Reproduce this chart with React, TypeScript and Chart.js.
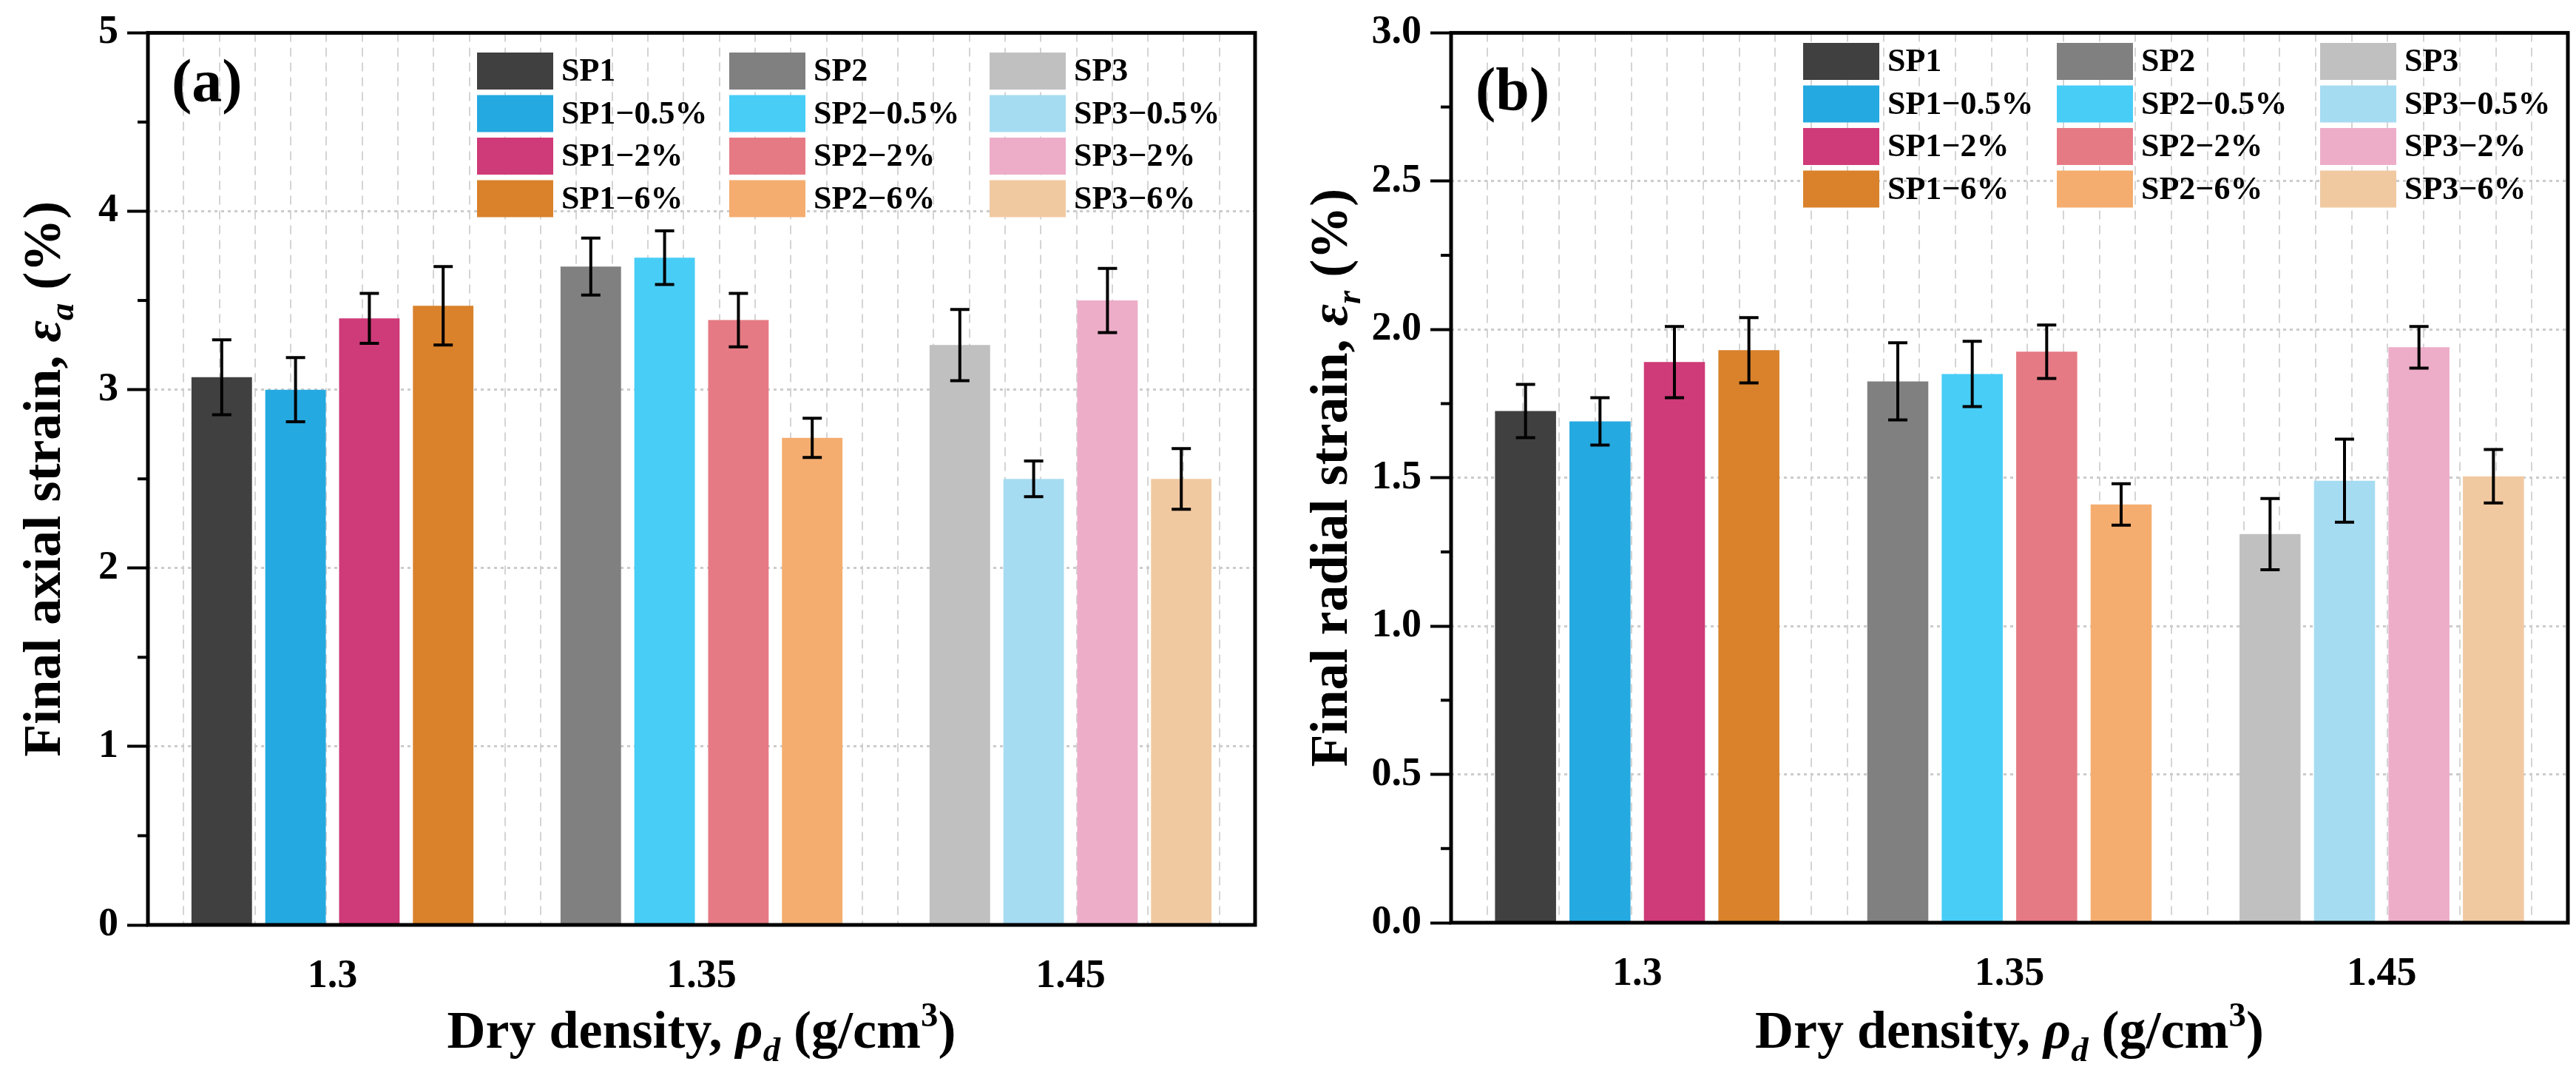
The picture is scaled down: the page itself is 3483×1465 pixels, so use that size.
import React, { useEffect, useRef } from "react";
import { Chart, registerables } from "chart.js";
Chart.register(...registerables);

const categories = ["1.3", "1.35", "1.45"];
const seriesLabels = ["SP1", "SP2", "SP3", "SP1\u22120.5%", "SP2\u22120.5%", "SP3\u22120.5%", "SP1\u22122%", "SP2\u22122%", "SP3\u22122%", "SP1\u22126%", "SP2\u22126%", "SP3\u22126%"];
const seriesColors = ["#404040", "#808080", "#c0c0c0", "#24a9e1", "#48cdf7", "#a6dcf2", "#cf3a78", "#e67a84", "#edadc8", "#d9822b", "#f4ad6f", "#f1c9a1"];
// which category each series belongs to (index into categories)
const seriesGroup = [0, 1, 2, 0, 1, 2, 0, 1, 2, 0, 1, 2];
const axialValues = [3.07, 3.69, 3.25, 3.0, 3.74, 2.5, 3.4, 3.39, 3.5, 3.47, 2.73, 2.5];
const axialErrors = [0.21, 0.16, 0.2, 0.18, 0.15, 0.1, 0.14, 0.15, 0.18, 0.22, 0.11, 0.17];
const radialValues = [1.725, 1.825, 1.31, 1.69, 1.85, 1.49, 1.89, 1.925, 1.94, 1.93, 1.41, 1.505];
const radialErrors = [0.09, 0.13, 0.12, 0.08, 0.11, 0.14, 0.12, 0.09, 0.07, 0.11, 0.07, 0.09];
const axialTicks = { min: 0, max: 5, step: 1, minor: 0.5 };
const radialTicks = { min: 0, max: 3, step: 0.5, minor: 0.25 };

const FONT = "'Liberation Serif', 'Times New Roman', serif";

type Seg = { t: string; italic?: boolean; sub?: boolean; sup?: boolean };

function drawSegs(ctx: CanvasRenderingContext2D, segs: Seg[], size: number, cx: number, cy: number, rot: boolean) {
  const fontOf = (s: Seg) => `${s.italic ? "italic " : ""}bold ${s.sub || s.sup ? size * 0.65 : size}px ${FONT}`;
  let total = 0;
  segs.forEach((s) => { ctx.font = fontOf(s); total += ctx.measureText(s.t).width; });
  ctx.save();
  ctx.translate(cx, cy);
  if (rot) ctx.rotate(-Math.PI / 2);
  ctx.fillStyle = "#000";
  ctx.textBaseline = "alphabetic";
  ctx.textAlign = "left";
  let x = -total / 2;
  segs.forEach((s) => {
    ctx.font = fontOf(s);
    const dy = s.sub ? size * 0.25 : s.sup ? -size * 0.4 : 0;
    ctx.fillText(s.t, x, size * 0.33 + dy);
    x += ctx.measureText(s.t).width;
  });
  ctx.restore();
}

function makeChart(canvas: HTMLCanvasElement, cfg: any) {
  const { values, errors, ticks, letter, yTitle, plotLeft, padRight, padTop, xHeight, legendX, legendY, letterX, letterY } = cfg;
  const datasets = seriesLabels.map((lab, i) => ({
    label: lab,
    data: categories.map((_, c) => (seriesGroup[i] === c ? values[i] : null)),
    backgroundColor: seriesColors[i],
    borderWidth: 0,
    categoryPercentage: 0.8,
    barPercentage: 0.82,
    errs: errors[i],
  }));
  const deco = {
    id: "deco",
    afterDatasetsDraw(chart: any) {
      const ctx = chart.ctx;
      const y = chart.scales.y;
      const a = chart.chartArea;
      // error bars
      ctx.save();
      ctx.strokeStyle = "#000";
      ctx.lineWidth = 4;
      chart.data.datasets.forEach((ds: any, di: number) => {
        const meta = chart.getDatasetMeta(di);
        meta.data.forEach((el: any, j: number) => {
          const v = ds.data[j];
          if (v == null) return;
          const t = y.getPixelForValue(v + ds.errs);
          const b = y.getPixelForValue(v - ds.errs);
          ctx.beginPath();
          ctx.moveTo(el.x, t); ctx.lineTo(el.x, b);
          ctx.moveTo(el.x - 13, t); ctx.lineTo(el.x + 13, t);
          ctx.moveTo(el.x - 13, b); ctx.lineTo(el.x + 13, b);
          ctx.stroke();
        });
      });
      // minor ticks
      ctx.lineWidth = 4;
      for (let v = ticks.min + ticks.minor; v < ticks.max; v += ticks.step) {
        const py = y.getPixelForValue(v);
        ctx.beginPath(); ctx.moveTo(a.left - 14, py); ctx.lineTo(a.left, py); ctx.stroke();
      }
      // frame
      ctx.lineWidth = 5;
      ctx.strokeRect(a.left, a.top, a.right - a.left, a.bottom - a.top);
      ctx.restore();
      // legend
      ctx.save();
      ctx.textBaseline = "middle";
      ctx.font = `bold 44px ${FONT}`;
      chart.data.datasets.forEach((ds: any, i: number) => {
        const col = i % 3, row = Math.floor(i / 3);
        const lx = legendX[col], ly = legendY + row * 57.5;
        ctx.fillStyle = ds.backgroundColor;
        ctx.fillRect(lx, ly, 103, 50);
        ctx.fillStyle = "#000";
        ctx.fillText(ds.label, lx + 114, ly + 27);
      });
      ctx.font = `bold 82px ${FONT}`;
      ctx.fillText(letter, letterX, letterY);
      ctx.restore();
      // axis titles
      drawSegs(ctx, [{ t: "Dry density, " }, { t: "\u03c1", italic: true }, { t: "d", italic: true, sub: true }, { t: " (g/cm" }, { t: "3", sup: true }, { t: ")" }], 72, (a.left + a.right) / 2, 1392, false);
      drawSegs(ctx, yTitle, 72, 57, (a.top + a.bottom) / 2, true);
    },
  };
  return new Chart(canvas, {
    type: "bar",
    data: { labels: categories, datasets },
    plugins: [deco],
    options: {
      animation: false,
      responsive: false,
      skipNull: true,
      layout: { padding: { left: 0, right: padRight, top: padTop, bottom: 0 } },
      plugins: { legend: { display: false }, tooltip: { enabled: false } },
      scales: {
        x: {
          offset: true,
          grid: { display: false },
          border: { display: false },
          ticks: { color: "#000", font: { family: FONT, size: 54, weight: "bold" }, padding: 30 },
          afterFit: (s: any) => { s.height = xHeight; },
        },
        x2: {
          type: "linear",
          position: "bottom",
          min: 0, max: 30,
          ticks: { display: false, stepSize: 1 },
          grid: { color: "#d4d4d4", lineWidth: 2, drawTicks: false },
          border: { display: false, dash: [12, 8] },
          afterFit: (s: any) => { s.height = 0; },
        },
        y: {
          min: ticks.min, max: ticks.max,
          ticks: { stepSize: ticks.step, color: "#000", font: { family: FONT, size: 54, weight: "bold" }, padding: 12, callback: (v: any) => (ticks.step < 1 ? Number(v).toFixed(1) : String(v)) },
          grid: { color: "#cccccc", lineWidth: 3, tickLength: 28, tickColor: "#000", tickWidth: 4, tickBorderDash: [] },
          border: { display: false, dash: [4, 5] },
          afterFit: (s: any) => { s.width = plotLeft; },
        },
      },
    } as any,
  });
}

export default function App() {
  const ra = useRef<HTMLCanvasElement>(null);
  const rb = useRef<HTMLCanvasElement>(null);
  useEffect(() => {
    const ca = makeChart(ra.current!, {
      values: axialValues, errors: axialErrors, ticks: axialTicks, letter: "(a)",
      yTitle: [{ t: "Final axial strain, " }, { t: "\u03b5", italic: true }, { t: "a", italic: true, sub: true }, { t: " (%)" }],
      plotLeft: 200, padRight: 43, padTop: 44, xHeight: 215,
      legendX: [645, 986, 1338], legendY: 71, letterX: 232, letterY: 116,
    });
    const cb = makeChart(rb.current!, {
      values: radialValues, errors: radialErrors, ticks: radialTicks, letter: "(b)",
      yTitle: [{ t: "Final radial strain, " }, { t: "\u03b5", italic: true }, { t: "r", italic: true, sub: true }, { t: " (%)" }],
      plotLeft: 222, padRight: 11, padTop: 41, xHeight: 218,
      legendX: [698, 1041, 1397], legendY: 58, letterX: 255, letterY: 127,
    });
    return () => { ca.destroy(); cb.destroy(); };
  }, []);
  return (
    <div style={{ position: "fixed", left: 0, top: 0, width: 3483, height: 1465, background: "#fff" }}>
      <canvas ref={ra} width={1740} height={1465} style={{ position: "absolute", left: 0, top: 0, width: 1740, height: 1465 }} />
      <canvas ref={rb} width={1743} height={1465} style={{ position: "absolute", left: 1740, top: 0, width: 1743, height: 1465 }} />
    </div>
  );
}
